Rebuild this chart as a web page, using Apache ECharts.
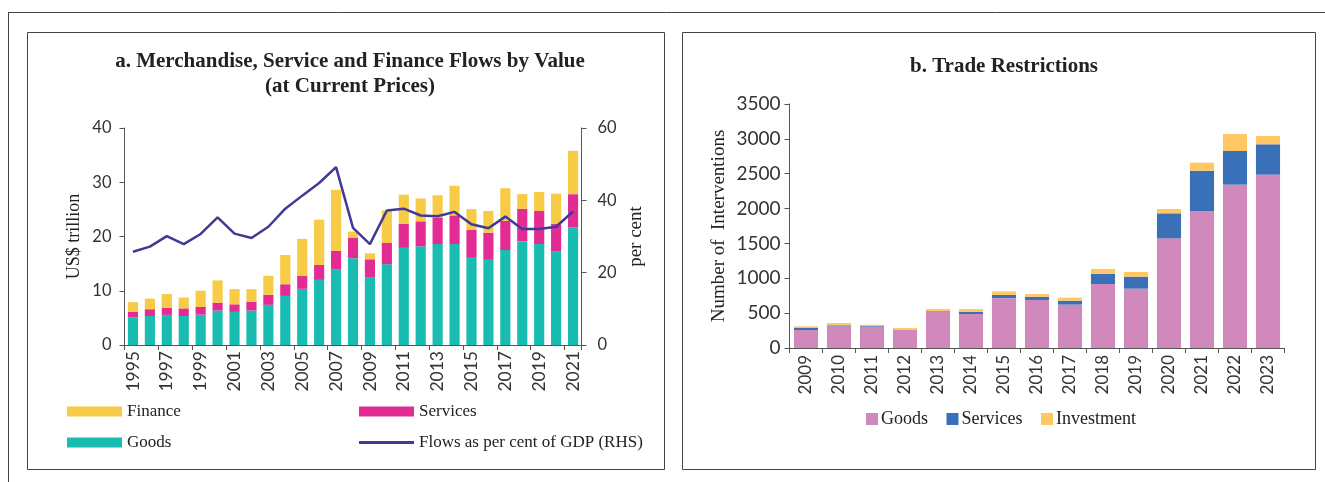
<!DOCTYPE html>
<html>
<head>
<meta charset="utf-8">
<script src="https://cdn.jsdelivr.net/npm/echarts@6/dist/echarts.min.js"></script>
<style>
html,body{margin:0;padding:0;background:#fff;}
#c{width:1325px;height:482px;}
</style>
</head>
<body>
<div id="c"></div>
<script>
// ---- Panel a data ----
const yearsA = ['1995','1996','1997','1998','1999','2000','2001','2002','2003','2004','2005','2006','2007','2008','2009','2010','2011','2012','2013','2014','2015','2016','2017','2018','2019','2020','2021'];
const goodsA    = [5.05,5.35,5.55,5.35,5.6,6.35,6.1,6.35,7.4,9.05,10.35,12.0,13.9,16.0,12.4,14.9,17.9,18.2,18.6,18.6,16.2,15.7,17.5,19.1,18.6,17.2,21.7];
const servicesA = [1.1,1.25,1.35,1.4,1.4,1.45,1.4,1.6,1.85,2.15,2.45,2.75,3.45,3.8,3.4,3.9,4.4,4.6,4.9,5.3,5.0,5.0,5.4,6.0,6.1,5.1,6.1];
const financeA  = [1.75,1.95,2.5,2.0,3.0,4.1,2.8,2.35,3.5,5.4,6.75,8.35,11.25,1.1,1.1,6.0,5.4,4.2,4.1,5.45,3.85,4.0,6.0,2.7,3.5,5.6,8.0];
const flowsGdp  = [25.8,27.2,30.1,27.9,30.7,35.3,30.8,29.6,32.7,37.7,41.3,44.8,49.2,32.4,27.9,37.2,37.7,35.8,35.6,36.8,33.4,32.3,35.5,32.1,32.1,32.7,36.9];

// ---- Panel b data ----
const yearsB = ['2009','2010','2011','2012','2013','2014','2015','2016','2017','2018','2019','2020','2021','2022','2023'];
const goodsB      = [258,310,306,258,526,488,715,689,622,918,851,1573,1966,2343,2487];
const servicesB   = [34,15,10,5,5,28,45,47,57,148,172,359,578,483,435];
const investmentB = [19,34,19,24,29,44,52,39,43,67,67,62,115,244,119];

const C = {teal:'#18BCB0', mag:'#E22C93', yel:'#F7CB46', line:'#3F3A98',
           pink:'#D089BB', blue:'#3A70B7', orange:'#FFC864', txt:'#333'};
const serif = '"Liberation Serif", "DejaVu Serif", serif';
const sans = 'Lato, "Open Sans", sans-serif';

const chart = echarts.init(document.getElementById('c'));
const axisLine = {show:true, lineStyle:{color:'#555', width:1}};
const tick = {show:true, length:5, lineStyle:{color:'#555'}};
const lbl = (size) => ({color:C.txt, fontFamily:sans, fontSize:size});
const plain = v => String(v);
const legText = {fontFamily:serif, fontSize:17, color:'#222'};

chart.setOption({
  animation:false,
  backgroundColor:'#fff',
  title:[
    {text:'a. Merchandise, Service and Finance Flows by Value\n(at Current Prices)', left:345, top:44, textAlign:'center',
     textStyle:{fontFamily:serif, fontWeight:'bold', fontSize:21, color:'#222', lineHeight:25}},
    {text:'b. Trade Restrictions', left:999, top:51, textAlign:'center',
     textStyle:{fontFamily:serif, fontWeight:'bold', fontSize:21, color:'#222'}}
  ],
  legend:[
    {data:[{name:'Finance', icon:'rect'}], left:67, top:403, padding:0, itemWidth:55, itemHeight:10, textStyle:legText},
    {data:[{name:'Services', icon:'rect'}], left:359, top:403, padding:0, itemWidth:55, itemHeight:10, textStyle:legText},
    {data:[{name:'Goods', icon:'rect'}], left:67, top:434, padding:0, itemWidth:55, itemHeight:10, textStyle:legText},
    {data:[{name:'Flows as per cent of GDP (RHS)', icon:'rect'}], left:359, top:434, padding:0, itemWidth:55, itemHeight:3, textStyle:legText},
    {data:[{name:'Goods ', icon:'rect'},{name:'Services ', icon:'rect'},{name:'Investment', icon:'rect'}], left:866, top:410, padding:0,
     itemWidth:12, itemHeight:12, itemGap:14, textStyle:{fontFamily:serif, fontSize:18, color:'#222', padding:[0,0,0,-2]}}
  ],
  grid:[
    {left:124.5, top:128, width:457, height:217},
    {left:789.5, top:104, width:495, height:244}
  ],
  xAxis:[
    {type:'category', gridIndex:0, data:yearsA, boundaryGap:true, axisLine:axisLine,
     axisTick:{show:true, length:5, interval:1, lineStyle:{color:'#555'}},
     axisLabel:Object.assign({interval:1, rotate:90, margin:6}, lbl(17.5))},
    {type:'category', gridIndex:1, data:yearsB, boundaryGap:true, axisLine:axisLine,
     axisTick:{show:true, length:5, interval:0, lineStyle:{color:'#555'}},
     axisLabel:Object.assign({interval:0, rotate:90, margin:7}, lbl(17))}
  ],
  yAxis:[
    {type:'value', gridIndex:0, min:0, max:40, interval:10, position:'left', axisLine:axisLine, axisTick:tick,
     splitLine:{show:false}, axisLabel:Object.assign({margin:13, formatter:plain}, lbl(16.5)),
     name:'US$ trillion', nameLocation:'middle', nameGap:41, nameRotate:90,
     nameTextStyle:{fontFamily:serif, fontSize:18, color:'#222'}},
    {type:'value', gridIndex:0, min:0, max:60, interval:20, position:'right', axisLine:axisLine, axisTick:tick,
     splitLine:{show:false}, axisLabel:Object.assign({margin:16, formatter:plain}, lbl(16.5)),
     name:'per cent', nameLocation:'middle', nameGap:45, nameRotate:90,
     nameTextStyle:{fontFamily:serif, fontSize:19, color:'#222'}},
    {type:'value', gridIndex:1, min:0, max:3500, interval:500, position:'left', axisLine:axisLine, axisTick:tick,
     splitLine:{show:false}, axisLabel:Object.assign({margin:9, formatter:plain}, lbl(19)),
     name:'Number of  Interventions', nameLocation:'middle', nameGap:61, nameRotate:90,
     nameTextStyle:{fontFamily:serif, fontSize:19, color:'#222'}}
  ],
  series:[
    {name:'Goods', type:'bar', stack:'a', xAxisIndex:0, yAxisIndex:0, data:goodsA, barCategoryGap:'40%', itemStyle:{color:C.teal}},
    {name:'Services', type:'bar', stack:'a', xAxisIndex:0, yAxisIndex:0, data:servicesA, itemStyle:{color:C.mag}},
    {name:'Finance', type:'bar', stack:'a', xAxisIndex:0, yAxisIndex:0, data:financeA, itemStyle:{color:C.yel}},
    {name:'Flows as per cent of GDP (RHS)', type:'line', xAxisIndex:0, yAxisIndex:1, data:flowsGdp, symbol:'none',
     lineStyle:{color:C.line, width:2.5}, itemStyle:{color:C.line}},
    {name:'Goods ', type:'bar', stack:'b', xAxisIndex:1, yAxisIndex:2, data:goodsB, barCategoryGap:'27%', itemStyle:{color:C.pink}},
    {name:'Services ', type:'bar', stack:'b', xAxisIndex:1, yAxisIndex:2, data:servicesB, itemStyle:{color:C.blue}},
    {name:'Investment', type:'bar', stack:'b', xAxisIndex:1, yAxisIndex:2, data:investmentB, itemStyle:{color:C.orange}}
  ],
  graphic:[
    {type:'line', shape:{x1:8, y1:12.5, x2:1325, y2:12.5}, style:{stroke:'#444', lineWidth:1}},
    {type:'line', shape:{x1:8.5, y1:12, x2:8.5, y2:482}, style:{stroke:'#444', lineWidth:1}},
    {type:'rect', shape:{x:27.5, y:32.5, width:637, height:437}, style:{fill:null, stroke:'#444', lineWidth:1}},
    {type:'rect', shape:{x:682.5, y:32.5, width:633, height:437}, style:{fill:null, stroke:'#444', lineWidth:1}}
  ]
});
</script>
</body>
</html>
